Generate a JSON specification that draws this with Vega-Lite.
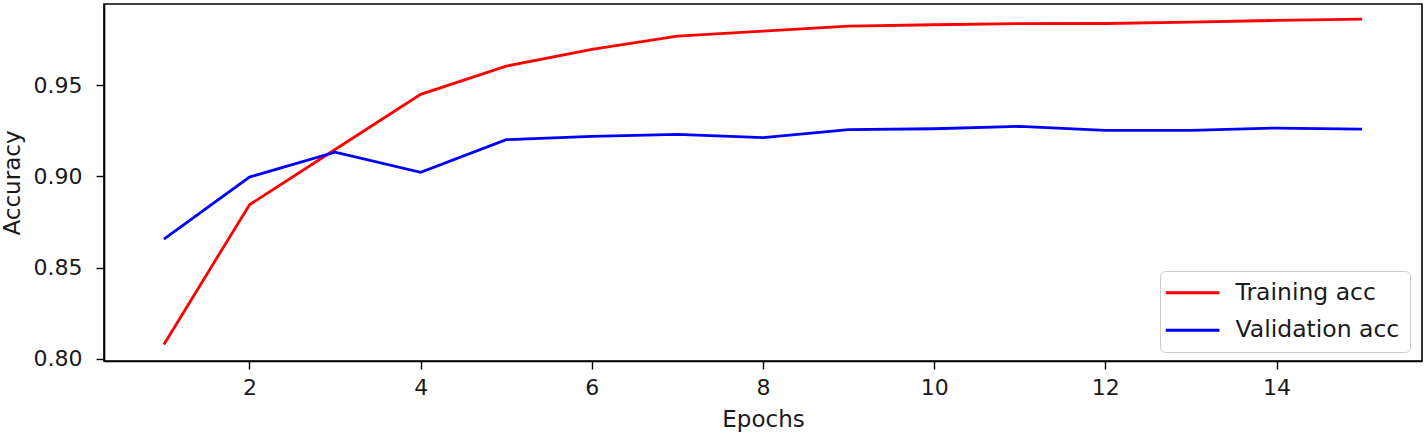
{
  "$schema": "https://vega.github.io/schema/vega-lite/v6.json",
  "width": 1318,
  "height": 357,
  "autosize": {"type": "none"},
  "padding": {"left": 104, "top": 4, "right": 5, "bottom": 76},
  "background": "white",
  "config": {
    "font": "DejaVu Sans",
    "view": {"stroke": "black", "strokeWidth": 1.6},
    "axis": {
      "grid": false,
      "domainColor": "black",
      "domainWidth": 1.6,
      "tickColor": "black",
      "tickWidth": 1.4,
      "tickSize": 8,
      "labelFont": "DejaVu Sans",
      "labelFontSize": 22,
      "labelColor": "#1a1a1a",
      "titleFont": "DejaVu Sans",
      "titleFontSize": 23,
      "titleFontWeight": "normal",
      "titleColor": "#1a1a1a"
    },
    "legend": {
      "labelFont": "DejaVu Sans",
      "labelFontSize": 23.5,
      "labelColor": "#1a1a1a",
      "labelLimit": 400
    }
  },
  "data": {
    "values": [
      {"epoch": 1, "series": "Training acc", "acc": 0.8078},
      {"epoch": 2, "series": "Training acc", "acc": 0.8845},
      {"epoch": 3, "series": "Training acc", "acc": 0.9148},
      {"epoch": 4, "series": "Training acc", "acc": 0.9451},
      {"epoch": 5, "series": "Training acc", "acc": 0.9606},
      {"epoch": 6, "series": "Training acc", "acc": 0.9698},
      {"epoch": 7, "series": "Training acc", "acc": 0.9771},
      {"epoch": 8, "series": "Training acc", "acc": 0.9798},
      {"epoch": 9, "series": "Training acc", "acc": 0.9825},
      {"epoch": 10, "series": "Training acc", "acc": 0.9833},
      {"epoch": 11, "series": "Training acc", "acc": 0.9839},
      {"epoch": 12, "series": "Training acc", "acc": 0.984},
      {"epoch": 13, "series": "Training acc", "acc": 0.9847},
      {"epoch": 14, "series": "Training acc", "acc": 0.9857},
      {"epoch": 15, "series": "Training acc", "acc": 0.9864},
      {"epoch": 1, "series": "Validation acc", "acc": 0.8656},
      {"epoch": 2, "series": "Validation acc", "acc": 0.8997},
      {"epoch": 3, "series": "Validation acc", "acc": 0.9134},
      {"epoch": 4, "series": "Validation acc", "acc": 0.9023},
      {"epoch": 5, "series": "Validation acc", "acc": 0.9202},
      {"epoch": 6, "series": "Validation acc", "acc": 0.922},
      {"epoch": 7, "series": "Validation acc", "acc": 0.9231},
      {"epoch": 8, "series": "Validation acc", "acc": 0.9213},
      {"epoch": 9, "series": "Validation acc", "acc": 0.9257},
      {"epoch": 10, "series": "Validation acc", "acc": 0.9262},
      {"epoch": 11, "series": "Validation acc", "acc": 0.9275},
      {"epoch": 12, "series": "Validation acc", "acc": 0.9253},
      {"epoch": 13, "series": "Validation acc", "acc": 0.9253},
      {"epoch": 14, "series": "Validation acc", "acc": 0.9266},
      {"epoch": 15, "series": "Validation acc", "acc": 0.926}
    ]
  },
  "mark": {"type": "line", "strokeWidth": 2.8, "clip": true},
  "encoding": {
    "x": {
      "field": "epoch",
      "type": "quantitative",
      "scale": {"domain": [0.3, 15.7], "nice": false, "zero": false},
      "axis": {
        "title": "Epochs",
        "values": [2, 4, 6, 8, 10, 12, 14],
        "labelPadding": 8,
        "titlePadding": 10
      }
    },
    "y": {
      "field": "acc",
      "type": "quantitative",
      "scale": {"domain": [0.7987, 0.9947], "nice": false, "zero": false},
      "axis": {
        "title": "Accuracy",
        "values": [0.8, 0.85, 0.9, 0.95],
        "format": ".2f",
        "labelPadding": 14,
        "titlePadding": 9
      }
    },
    "color": {
      "field": "series",
      "type": "nominal",
      "scale": {"domain": ["Training acc", "Validation acc"], "range": ["#ff0000", "#0000ff"]},
      "legend": {
        "title": null,
        "orient": "none",
        "legendX": 1056,
        "legendY": 267,
        "fillColor": "white",
        "strokeColor": "#cccccc",
        "cornerRadius": 5,
        "padding": 10,
        "symbolType": "M-1.6,0H3.77",
        "symbolSize": 400,
        "symbolStrokeWidth": 2.8,
        "labelOffset": 42,
        "labelLimit": 400,
        "rowPadding": 12.5
      }
    }
  }
}
